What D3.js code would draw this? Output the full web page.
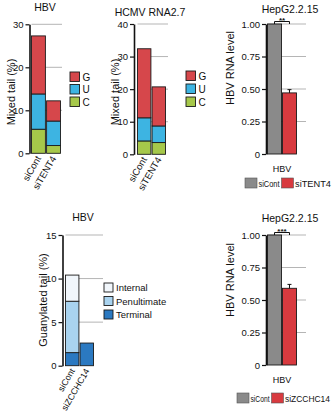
<!DOCTYPE html>
<html><head><meta charset="utf-8">
<script src="https://cdn.jsdelivr.net/npm/d3@7"></script>
<style>
body{margin:0;background:#fff}
svg{display:block}
text{font-family:"Liberation Sans",Arial,Helvetica,sans-serif;fill:#111}
</style>
</head><body><svg id="c" width="335" height="414"></svg>
<script>
// ---------- data ----------
const tentCats = ["siCont", "siTENT4"];
const nucKeys = ["C", "U", "G"];
const hbvMixedC = [5.6, 1.8];
const hbvMixedU = [8.2, 5.7];
const hbvMixedG = [13.5, 4.7];
const hcmvMixedC = [4.1, 3.6];
const hcmvMixedU = [7.1, 5.1];
const hcmvMixedG = [21.2, 12.0];

const zcchcCats = ["siCont", "siZCCHC14"];
const posKeys = ["Terminal", "Penultimate", "Internal"];
const guanTerminal = [1.5, 2.6];
const guanPenultimate = [5.9, 0];
const guanInternal = [3.0, 0];

const tentRna = [1.0, 0.47];
const tentRnaErr = [0, 0.025];
const zcchcRna = [1.0, 0.59];
const zcchcRnaErr = [0, 0.03];

const mixedTicksHbv = [0, 10, 20, 30];
const mixedTicksHcmv = [0, 10, 20, 30, 40];
const guanTicks = [0, 5, 10, 15];
const rnaTicks = [0, 0.25, 0.5, 0.75, 1.0];

// ---------- styles ----------
const nucColors = {G: "#d6474b", U: "#3db4e2", C: "#a6c84a"};
const posColors = {Internal: "#f1f6fb", Penultimate: "#a9d3ef", Terminal: "#2b79c1"};
const rnaColors = ["#8a8a8a", "#d83a3f"];

const svg = d3.select("#c");

function drawAxis(g, y, ticks, axisX, fmt) {
  const ax = d3.axisLeft(y).tickValues(ticks).tickSize(4).tickSizeOuter(0).tickPadding(2).tickFormat(fmt);
  const a = g.append("g").attr("transform", `translate(${axisX},0)`).call(ax);
  a.select(".domain").attr("stroke", "#111").attr("stroke-width", 1.6);
  a.selectAll(".tick line").attr("stroke", "#111").attr("stroke-width", 1.2);
  a.selectAll(".tick text").attr("font-size", 9.5).attr("fill", "#111")
    .attr("font-family", '"Liberation Sans",Arial,sans-serif');
}

function yLabel(g, text, x, y) {
  g.append("text").attr("transform", `translate(${x},${y}) rotate(-90)`)
    .attr("text-anchor", "middle").attr("font-size", 11).text(text);
}

function title(g, text, x, y) {
  g.append("text").attr("x", x).attr("y", y).attr("text-anchor", "middle")
    .attr("font-size", 10.5).text(text);
}

function stackedPanel(o) {
  const g = svg.append("g");
  const y = d3.scaleLinear().domain(o.domain).range([o.yBottom, o.yTop]);
  const x = d3.scaleBand().domain(o.cats).range([o.barX0, o.barX1]).paddingInner(0.08);
  // grid
  g.selectAll("line.grid").data(o.ticks.filter(t => t > 0)).join("line")
    .attr("x1", o.barX0).attr("x2", o.gridX1)
    .attr("y1", d => y(d)).attr("y2", d => y(d))
    .attr("stroke", "#b5b5b5").attr("stroke-width", 1);
  const stack = d3.stack().keys(o.keys)(o.rows);
  stack.forEach(layer => {
    g.selectAll(null).data(layer.filter(d => d[1] > d[0])).join("rect")
      .attr("x", d => x(d.data.cat)).attr("width", x.bandwidth())
      .attr("y", d => y(d[1])).attr("height", d => y(d[0]) - y(d[1]))
      .attr("fill", o.colors[layer.key]).attr("stroke", "#1a1a1a").attr("stroke-width", 0.9);
  });
  drawAxis(g, y, o.ticks, o.axisX, d3.format("d"));
  // rotated category labels
  g.selectAll(null).data(o.cats).join("text")
    .attr("transform", c => `translate(${x(c) + x.bandwidth() / 2 + 3},${o.yBottom + 5}) rotate(-60)`)
    .attr("text-anchor", "end").attr("font-size", o.catFont).text(c => c);
  title(g, o.title, o.titleX, o.titleY);
  yLabel(g, o.yLabel, o.yLabelX, o.yLabelY);
  // legend (top to bottom = reversed stack order)
  const legKeys = o.keys.slice().reverse();
  const lg = g.append("g").attr("transform", `translate(${o.legX},${o.legY})`);
  legKeys.forEach((k, i) => {
    lg.append("rect").attr("x", 0).attr("y", i * o.legStep).attr("width", o.legSize).attr("height", o.legSize)
      .attr("fill", o.colors[k]).attr("stroke", "#1a1a1a").attr("stroke-width", 0.9);
    lg.append("text").attr("x", o.legSize + 3).attr("y", i * o.legStep + o.legSize - 1)
      .attr("font-size", o.legFont).text(k);
  });
}

function rnaPanel(o) {
  const g = svg.append("g");
  const y = d3.scaleLinear().domain([0, 1]).range([o.yBottom, o.yTop]);
  const x = d3.scaleBand().domain(o.cats).range([o.barX0, o.barX1]).paddingInner(0.06);
  g.selectAll("line.grid").data(rnaTicks.filter(t => t > 0)).join("line")
    .attr("x1", o.barX0).attr("x2", o.gridX1)
    .attr("y1", d => y(d)).attr("y2", d => y(d))
    .attr("stroke", "#b5b5b5").attr("stroke-width", 1);
  g.selectAll(null).data(o.cats).join("rect")
    .attr("x", c => x(c)).attr("width", x.bandwidth())
    .attr("y", (c, i) => y(o.values[i])).attr("height", (c, i) => y(0) - y(o.values[i]))
    .attr("fill", (c, i) => rnaColors[i]).attr("stroke", "#1a1a1a").attr("stroke-width", 0.9);
  // error bars
  o.cats.forEach((c, i) => {
    if (o.errs[i] > 0) {
      const cx = x(c) + x.bandwidth() / 2;
      g.append("line").attr("x1", cx).attr("x2", cx)
        .attr("y1", y(o.values[i])).attr("y2", y(o.values[i] + o.errs[i])).attr("stroke", "#111").attr("stroke-width", 1);
      g.append("line").attr("x1", cx - 2).attr("x2", cx + 2)
        .attr("y1", y(o.values[i] + o.errs[i])).attr("y2", y(o.values[i] + o.errs[i])).attr("stroke", "#111").attr("stroke-width", 1);
    }
  });
  drawAxis(g, y, rnaTicks, o.axisX, d => d === 0 ? "0" : d.toFixed(2));
  // significance bracket
  const c0 = x(o.cats[0]) + x.bandwidth() / 2, c1 = x(o.cats[1]) + x.bandwidth() / 2;
  const by = y(1) - 2.5;
  g.append("path").attr("d", `M${c0},${by + 2.5}V${by}H${c1}V${by + 2.5}`)
    .attr("fill", "none").attr("stroke", "#111").attr("stroke-width", 1);
  g.append("text").attr("x", (c0 + c1) / 2).attr("y", by + 1.5).attr("text-anchor", "middle")
    .attr("font-size", 8).attr("font-weight", "bold").text(o.stars);
  title(g, o.title, o.titleX, o.titleY);
  yLabel(g, "HBV RNA level", o.yLabelX, o.yLabelY);
  g.append("text").attr("x", (o.barX0 + o.barX1) / 2).attr("y", o.yBottom + 18)
    .attr("text-anchor", "middle").attr("font-size", 9).text("HBV");
  // legend
  const lg = g.append("g");
  let cx = o.legX;
  o.cats.forEach((c, i) => {
    lg.append("rect").attr("x", cx).attr("y", o.legY).attr("width", 12).attr("height", 10)
      .attr("fill", rnaColors[i]).attr("stroke", "#555").attr("stroke-width", 0.6);
    lg.append("text").attr("x", cx + 13.5).attr("y", o.legY + 8.5).attr("font-size", 9)
      .attr("textLength", o.legWidths[i]).attr("lengthAdjust", "spacingAndGlyphs").text(c);
    cx += 13.5 + o.legWidths[i] + 2;
  });
}

// ---------- panels ----------
stackedPanel({
  cats: tentCats, keys: nucKeys, colors: nucColors,
  rows: tentCats.map((c, i) => ({cat: c, C: hbvMixedC[i], U: hbvMixedU[i], G: hbvMixedG[i]})),
  domain: [0, 30], ticks: mixedTicksHbv, yBottom: 153.3, yTop: 24.3,
  axisX: 29.5, barX0: 31.5, barX1: 60.5, gridX1: 62,
  title: "HBV", titleX: 45, titleY: 11, catFont: 9.5,
  yLabel: "Mixed tail (%)", yLabelX: 15, yLabelY: 92,
  legX: 70, legY: 72, legStep: 12.5, legSize: 9.5, legFont: 10
});

stackedPanel({
  cats: tentCats, keys: nucKeys, colors: nucColors,
  rows: tentCats.map((c, i) => ({cat: c, C: hcmvMixedC[i], U: hcmvMixedU[i], G: hcmvMixedG[i]})),
  domain: [0, 40], ticks: mixedTicksHcmv, yBottom: 154.3, yTop: 24,
  axisX: 134, barX0: 137.5, barX1: 165.5, gridX1: 168,
  title: "HCMV RNA2.7", titleX: 150, titleY: 16, catFont: 9.5,
  yLabel: "Mixed tail (%)", yLabelX: 118.5, yLabelY: 92,
  legX: 186, legY: 71, legStep: 13, legSize: 9.5, legFont: 10
});

stackedPanel({
  cats: zcchcCats, keys: posKeys, colors: posColors,
  rows: zcchcCats.map((c, i) => ({cat: c, Terminal: guanTerminal[i], Penultimate: guanPenultimate[i], Internal: guanInternal[i]})),
  domain: [0, 15], ticks: guanTicks, yBottom: 365.7, yTop: 235,
  axisX: 62.5, barX0: 65.5, barX1: 93.5, gridX1: 103,
  title: "HBV", titleX: 83, titleY: 221, catFont: 8.8,
  yLabel: "Guanylated tail (%)", yLabelX: 47, yLabelY: 300,
  legX: 104, legY: 283, legStep: 13.5, legSize: 9, legFont: 9.5
});

rnaPanel({
  cats: tentCats, values: tentRna, errs: tentRnaErr, stars: "**",
  yBottom: 154, yTop: 24, axisX: 266, barX0: 267.5, barX1: 296.5, gridX1: 306,
  title: "HepG2.2.15", titleX: 290, titleY: 13,
  yLabelX: 234, yLabelY: 68, legX: 245, legY: 178, legWidths: [21, 36]
});

rnaPanel({
  cats: zcchcCats, values: zcchcRna, errs: zcchcRnaErr, stars: "***",
  yBottom: 365, yTop: 235, axisX: 266, barX0: 267.5, barX1: 296.5, gridX1: 306,
  title: "HepG2.2.15", titleX: 290, titleY: 222,
  yLabelX: 234, yLabelY: 280, legX: 237, legY: 393, legWidths: [19, 45]
});
</script>
</body></html>
